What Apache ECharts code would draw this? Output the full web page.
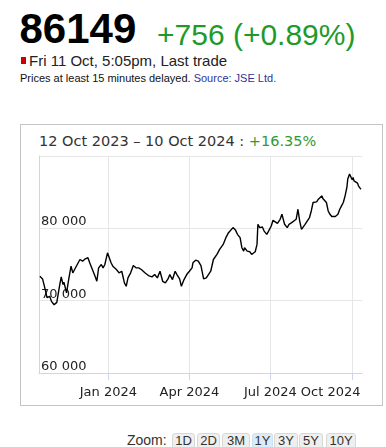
<!DOCTYPE html>
<html>
<head>
<meta charset="utf-8">
<script src="https://cdn.jsdelivr.net/npm/echarts@6/dist/echarts.min.js"></script>
<style>
  html, body { margin:0; padding:0; background:#fff; width:386px; height:447px; overflow:hidden; }
  .t { position:absolute; white-space:nowrap; font-family:"Liberation Sans", Arial, sans-serif; }
  #chart { position:absolute; left:0; top:0; width:386px; height:447px; z-index:2; }
  #box { position:absolute; left:20px; top:124px; width:361px; height:280px; border:1px solid #c4c4c4; z-index:1; }
  .btn { position:absolute; top:433px; height:16px; box-sizing:border-box; border:1px solid #d8d8d8; border-radius:3px; background:#efefef; font:13px/14px "Liberation Sans", Arial, sans-serif; color:#333; text-align:center; }
  .btn.sel { background:#dcebf8; border-color:#cfe0ef; }
</style>
</head>
<body>
<div id="box"></div>
<div id="chart"></div>

<div class="t" style="left:19.5px; top:7.5px; font-size:42px; line-height:42px; font-weight:bold; color:#000;">86149</div>
<div class="t" style="left:157px; top:19.5px; font-size:30px; line-height:30px; color:#1f9a2a;">+756 (+0.89%)</div>
<div style="position:absolute; left:21px; top:57px; width:5px; height:7px; background:#cc0000;"></div>
<div class="t" style="left:29px; top:52.6px; font-size:15px; line-height:15px; color:#222;">Fri 11 Oct, 5:05pm, Last trade</div>
<div class="t" style="left:20px; top:73.2px; font-size:11px; line-height:11px; color:#111;">Prices at least 15 minutes delayed. <span style="color:#33339a;">Source: JSE Ltd.</span></div>
<div class="t" style="left:39px; top:134.4px; font-family:'DejaVu Sans', sans-serif; font-size:14.5px; line-height:14.5px; color:#333;">12 Oct 2023 – 10 Oct 2024 : <span style="color:#2e9a35;">+16.35%</span></div>

<div class="t" style="left:127px; top:433px; font-size:14px; line-height:14px; color:#333;">Zoom:</div>
<div class="btn" style="left:172px; width:23px;">1D</div>
<div class="btn" style="left:197px; width:23px;">2D</div>
<div class="btn" style="left:222px; width:28px;">3M</div>
<div class="btn sel" style="left:252px; width:21px;">1Y</div>
<div class="btn" style="left:274px; width:24px;">3Y</div>
<div class="btn" style="left:299px; width:24px;">5Y</div>
<div class="btn" style="left:326px; width:30px;">10Y</div>

<script>
// ---- data ----
const dates = ['2023-10-16','2023-10-19','2023-10-22','2023-10-24','2023-10-27','2023-10-29','2023-11-01','2023-11-04','2023-11-07','2023-11-09',
'2023-11-11','2023-11-12','2023-11-15','2023-11-17','2023-11-20','2023-11-22','2023-11-24','2023-11-27','2023-11-30','2023-12-03',
'2023-12-06','2023-12-09','2023-12-11','2023-12-14','2023-12-17','2023-12-19','2023-12-21','2023-12-24','2023-12-26','2023-12-28',
'2023-12-31','2024-01-02','2024-01-04','2024-01-06','2024-01-10','2024-01-13','2024-01-16','2024-01-19','2024-01-21','2024-01-23',
'2024-01-26','2024-01-29','2024-02-01','2024-02-04','2024-02-07','2024-02-11','2024-02-15','2024-02-19','2024-02-22','2024-02-25',
'2024-02-28','2024-03-02','2024-03-05','2024-03-08','2024-03-10','2024-03-13','2024-03-16','2024-03-18','2024-03-21','2024-03-23',
'2024-03-26','2024-03-29','2024-04-01','2024-04-04','2024-04-05','2024-04-08','2024-04-11','2024-04-14','2024-04-17','2024-04-20',
'2024-04-22','2024-04-25','2024-04-28','2024-05-02','2024-05-05','2024-05-09','2024-05-12','2024-05-15','2024-05-17','2024-05-20',
'2024-05-23','2024-05-25','2024-05-28','2024-05-30','2024-06-01','2024-06-02','2024-06-05','2024-06-08','2024-06-10','2024-06-12',
'2024-06-14','2024-06-16','2024-06-17','2024-06-19','2024-06-22','2024-06-24','2024-06-27','2024-06-29','2024-07-01','2024-07-02',
'2024-07-04','2024-07-06','2024-07-09','2024-07-12','2024-07-14','2024-07-15','2024-07-17','2024-07-20','2024-07-22','2024-07-25',
'2024-07-27','2024-07-30','2024-07-31','2024-08-01','2024-08-03','2024-08-05','2024-08-07','2024-08-09','2024-08-11','2024-08-14',
'2024-08-16','2024-08-18','2024-08-20','2024-08-22','2024-08-24','2024-08-26','2024-08-28','2024-08-29','2024-08-31','2024-09-02',
'2024-09-04','2024-09-06','2024-09-08','2024-09-10','2024-09-12','2024-09-13','2024-09-15','2024-09-17','2024-09-19','2024-09-21',
'2024-09-23','2024-09-25','2024-09-26','2024-09-28','2024-09-29','2024-10-01','2024-10-02','2024-10-03','2024-10-05','2024-10-07',
'2024-10-08','2024-10-10','2024-10-11'];

const values = [73370,73010,71530,70420,70600,69900,69440,69760,71990,73290,
72220,72540,71070,72680,74760,73850,74310,75000,75690,75460,
75790,75930,75240,74310,73370,72680,74540,75000,74540,75000,
76620,76850,75240,74760,74310,73850,74070,72460,71990,73150,
73850,74860,74540,74540,74310,73850,73470,73290,73610,73150,
74070,72680,72460,73010,73610,72920,74070,73610,73010,71990,
72920,73610,74070,74540,75240,75600,75460,74860,73010,73150,
73370,74070,75690,76390,77080,77780,78710,79400,79620,80100,
79720,79170,78710,77320,76850,77320,76850,76760,76390,76290,
76760,77780,80560,80100,80180,79620,79170,79620,79860,80320,
81110,80880,80690,81250,81940,81490,80560,80100,80560,80790,
80790,81250,81940,82640,81010,79860,79620,80560,80790,81490,
82400,83570,83790,83650,84030,84260,84490,84130,84030,83570,
82400,81940,81630,81490,81630,81490,81940,82640,83100,83570,
84490,85650,86810,87500,87260,86710,87040,86570,86430,86250,
85880,85510,85420];

const xTickDates  = ['2024-01-01','2024-04-01','2024-07-01','2024-10-01'];
const xTickLabels = ['Jan 2024','Apr 2024','Jul 2024','Oct 2024'];
const yTickValues = [60000, 70000, 80000, 90000];
const yTickLabels = ['60 000', '70 000', '80 000', ''];
const xRange = ['2023-10-15', '2024-10-12'];

// ---- chart ----
const parseT = s => { const p = s.split('-').map(Number); return Date.UTC(p[0], p[1]-1, p[2]); };
const tickTs = xTickDates.map(parseT);
const chart = echarts.init(document.getElementById('chart'), null, {renderer:'canvas'});
chart.setOption({
  animation: false,
  grid: { left: 39, right: 24, top: 156, bottom: 74, containLabel: false },
  xAxis: {
    type: 'value',
    min: parseT(xRange[0]),
    max: parseT(xRange[1]),
    axisLine: { show: true, lineStyle: { color: '#ccd6eb', width: 1 } },
    axisTick: { show: true, length: 7, lineStyle: { color: '#ccd6eb' }, customValues: tickTs },
    splitLine: { show: true, lineStyle: { color: '#e6e6e6', width: 1 } },
    axisLabel: {
      customValues: tickTs,
      margin: 13,
      color: '#222',
      fontFamily: 'DejaVu Sans',
      fontSize: 13,
      hideOverlap: false,
      formatter: function (v) {
        const i = tickTs.indexOf(v);
        if (i < 0) return '';
        return i === tickTs.length - 1 ? '{r|' + xTickLabels[i] + '}' : xTickLabels[i];
      },
      rich: { r: { color: '#222', fontFamily: 'DejaVu Sans', fontSize: 13, padding: [0, 43, 0, 0] } }
    }
  },
  yAxis: {
    type: 'value',
    min: yTickValues[0],
    max: yTickValues[yTickValues.length - 1],
    interval: 10000,
    axisLine: { show: true, lineStyle: { color: '#ccd6eb', width: 1 } },
    axisTick: { show: false },
    splitLine: { show: true, lineStyle: { color: '#e6e6e6', width: 1 } },
    axisLabel: {
      inside: true,
      margin: 2,
      align: 'left',
      verticalAlign: 'bottom',
      color: '#222',
      fontFamily: 'DejaVu Sans',
      fontSize: 13,
      formatter: function (v) { const i = yTickValues.indexOf(v); return i >= 0 ? yTickLabels[i] : ''; }
    }
  },
  series: [{
    type: 'line',
    data: dates.map((d, i) => [parseT(d), values[i]]),
    showSymbol: false,
    symbol: 'none',
    lineStyle: { color: '#000', width: 1.4 },
    z: 5
  }]
});
</script>
</body>
</html>
